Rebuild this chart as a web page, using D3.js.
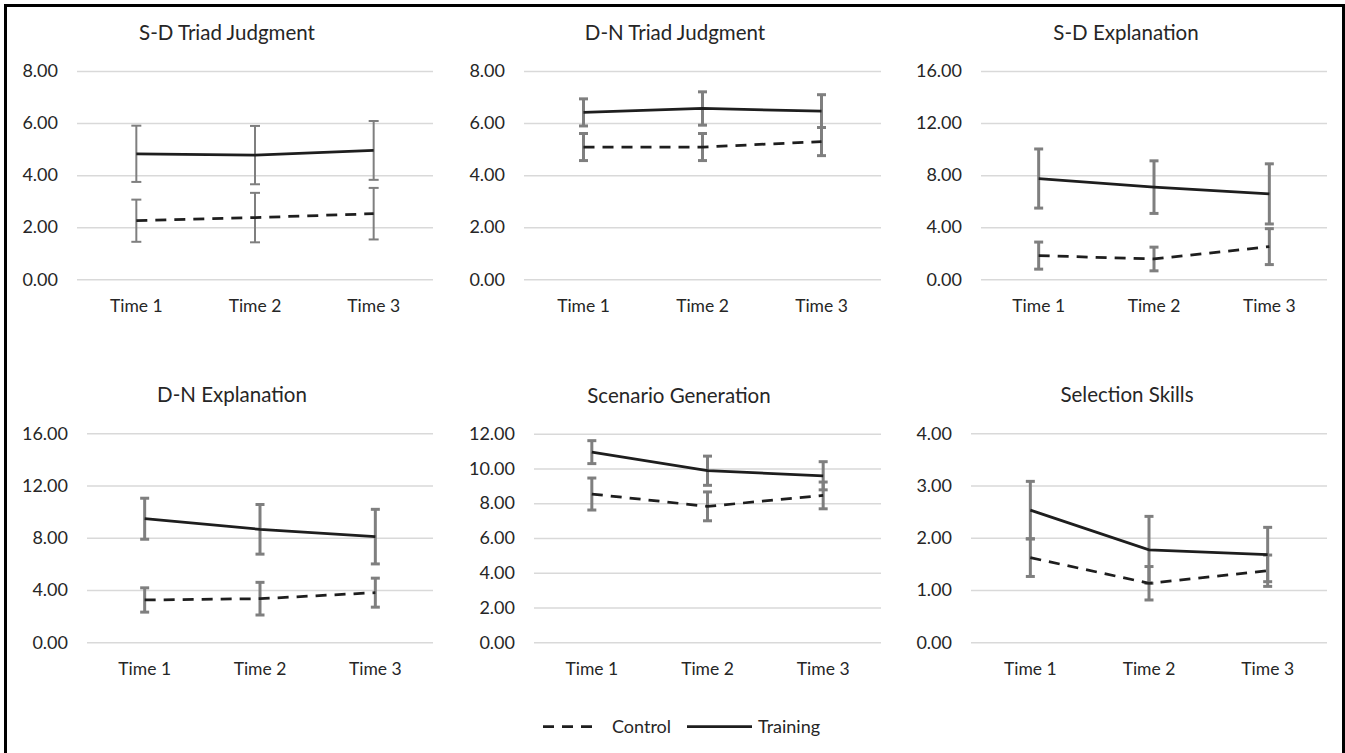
<!DOCTYPE html>
<html>
<head>
<meta charset="utf-8">
<script src="https://cdn.jsdelivr.net/npm/d3@7"></script>
<style>
  html, body { margin: 0; padding: 0; background: #fff; }
  svg { display: block; }
  text { font-family: Lato, "Open Sans", sans-serif; fill: #262626; }
</style>
</head>
<body>
<svg id="chart" width="1345" height="753"></svg>
<script>
// ---------------- data ----------------
const categories = ["Time 1", "Time 2", "Time 3"];
const panelTitles = ["S-D Triad Judgment", "D-N Triad Judgment", "S-D Explanation",
                     "D-N Explanation", "Scenario Generation", "Selection Skills"];
const seriesNames = ["Control", "Training"];
const yMaxValues = [8, 8, 16, 16, 12, 4];
const yTickSteps = [2, 2, 4, 4, 2, 1];

const trainingMeans = [
  [4.82, 4.77, 4.95],
  [6.41, 6.56, 6.46],
  [7.74, 7.08, 6.56],
  [9.46, 8.65, 8.09],
  [10.94, 9.87, 9.58],
  [2.53, 1.77, 1.68]
];
const trainingErrors = [
  [1.08, 1.12, 1.13],
  [0.52, 0.64, 0.63],
  [2.27, 2.02, 2.31],
  [1.57, 1.90, 2.09],
  [0.66, 0.84, 0.81],
  [0.55, 0.64, 0.52]
];
const controlMeans = [
  [2.25, 2.37, 2.52],
  [5.08, 5.08, 5.29],
  [1.82, 1.56, 2.51],
  [3.24, 3.34, 3.80],
  [8.53, 7.82, 8.45],
  [1.62, 1.13, 1.37]
];
const controlErrors = [
  [0.81, 0.95, 0.99],
  [0.52, 0.52, 0.54],
  [1.04, 0.91, 1.38],
  [0.93, 1.25, 1.11],
  [0.92, 0.83, 0.77],
  [0.36, 0.32, 0.30]
];

// ---------------- layout ----------------
const plotBoxes = [
  { l: 77,  r: 433,  t: 71,    b: 279.3, cx: 227 },
  { l: 524, r: 881,  t: 71,    b: 279.3, cx: 675 },
  { l: 981, r: 1327, t: 71,    b: 279.3, cx: 1126 },
  { l: 87,  r: 433,  t: 433.3, b: 642.3, cx: 232 },
  { l: 534, r: 881,  t: 433.7, b: 642.3, cx: 679 },
  { l: 971, r: 1327, t: 433.3, b: 642.3, cx: 1127 }
];
const errStyle = [
  { w: 2, cap: 10 }, { w: 3, cap: 9 }, { w: 3, cap: 9 },
  { w: 3, cap: 9 },  { w: 3, cap: 9 }, { w: 3, cap: 9 }
];

const svg = d3.select("#chart");
const lineColor = "#1e1e1e";
const errColor = "#7f7f7f";
const gridColor = "#d9d9d9";
const dash = "11,8";

// outer frame (bottom edge lies outside the picture)
svg.append("rect")
  .attr("x", 5.5).attr("y", 5.5)
  .attr("width", 1338).attr("height", 780)
  .attr("fill", "none").attr("stroke", "#000").attr("stroke-width", 3);

panelTitles.forEach((title, i) => {
  const box = plotBoxes[i];
  const g = svg.append("g");
  const x = d3.scaleBand().domain(categories).range([box.l, box.r]);
  const y = d3.scaleLinear().domain([0, yMaxValues[i]]).range([box.b, box.t]);
  const ticks = d3.range(0, yMaxValues[i] + 1e-9, yTickSteps[i]);

  // gridlines + y labels via axis
  const yAxis = d3.axisLeft(y).tickValues(ticks)
    .tickSize(-(box.r - box.l)).tickPadding(19)
    .tickFormat(d3.format(".2f"));
  const ya = g.append("g").attr("transform", `translate(${box.l},0)`).call(yAxis);
  ya.select(".domain").remove();
  ya.selectAll(".tick line").attr("stroke", gridColor).attr("stroke-width", 1.5);
  ya.selectAll(".tick text").style("font-size", "18px").attr("fill", "#262626")
    .style("font-family", "Lato, sans-serif");

  // x labels via axis
  const xAxis = d3.axisBottom(x).tickSize(0).tickPadding(0);
  const xa = g.append("g").attr("transform", `translate(0,${box.b})`).call(xAxis);
  xa.select(".domain").remove();
  xa.selectAll(".tick text").attr("dy", null).attr("y", 32.5)
    .style("font-size", "17.5px").attr("fill", "#262626")
    .style("font-family", "Lato, sans-serif");

  // title
  g.append("text").attr("x", box.cx).attr("y", box.t - 31)
    .attr("text-anchor", "middle").style("font-size", "20.5px").text(title);

  const series = [
    { means: controlMeans[i], errs: controlErrors[i], dashed: true },
    { means: trainingMeans[i], errs: trainingErrors[i], dashed: false }
  ];
  const cx = c => x(c) + x.bandwidth() / 2;
  const es = errStyle[i];

  // error bars
  series.forEach(s => {
    categories.forEach((c, k) => {
      const hi = y(s.means[k] + s.errs[k]);
      const lo = y(s.means[k] - s.errs[k]);
      const xc = cx(c);
      g.append("line").attr("x1", xc).attr("x2", xc).attr("y1", hi).attr("y2", lo)
        .attr("stroke", errColor).attr("stroke-width", es.w);
      [hi, lo].forEach(yy => {
        g.append("line").attr("x1", xc - es.cap / 2).attr("x2", xc + es.cap / 2)
          .attr("y1", yy).attr("y2", yy)
          .attr("stroke", errColor).attr("stroke-width", es.w);
      });
    });
  });

  // lines
  const line = d3.line().x((d, k) => cx(categories[k])).y(d => y(d));
  series.forEach(s => {
    g.append("path").datum(s.means).attr("d", line)
      .attr("fill", "none").attr("stroke", lineColor).attr("stroke-width", 2.75)
      .attr("stroke-dasharray", s.dashed ? dash : null);
  });
});

// legend
const lg = svg.append("g");
const legendItems = [
  { name: seriesNames[0], x1: 543, x2: 600, tx: 612, dashed: true },
  { name: seriesNames[1], x1: 687, x2: 752, tx: 758, dashed: false }
];
legendItems.forEach(it => {
  lg.append("line").attr("x1", it.x1).attr("x2", it.x2).attr("y1", 726.5).attr("y2", 726.5)
    .attr("stroke", lineColor).attr("stroke-width", 2.75)
    .attr("stroke-dasharray", it.dashed ? dash : null);
  lg.append("text").attr("x", it.tx).attr("y", 732.5).style("font-size", "18px").text(it.name);
});
</script>
</body>
</html>
